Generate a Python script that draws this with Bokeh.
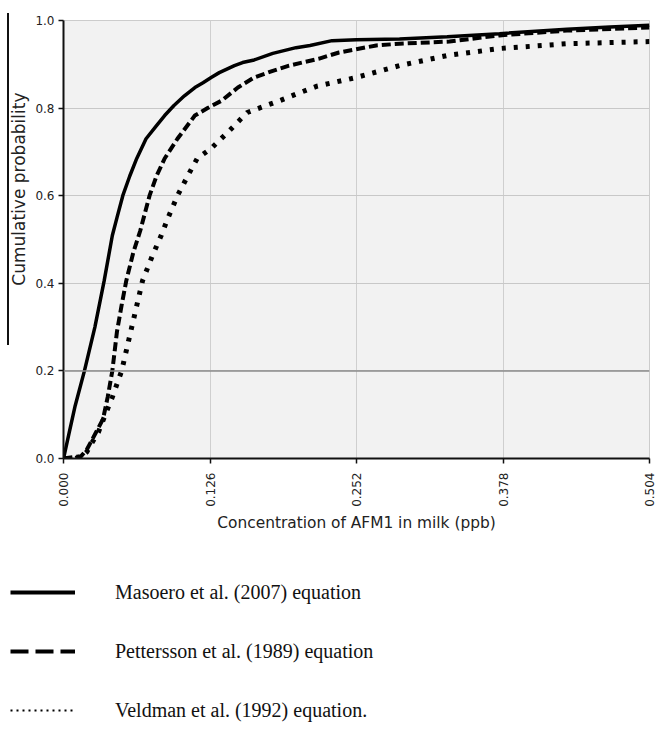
import math
from bokeh.plotting import figure
from bokeh.models import Legend, LegendItem, Span, FixedTicker, Range1d, ColumnDataSource
from bokeh.embed import file_html
from bokeh.resources import INLINE

# ---- data ----
masoero_x = [0, 0.005, 0.010, 0.018, 0.027, 0.035, 0.042, 0.046, 0.051, 0.057, 0.063, 0.071,
             0.080, 0.087, 0.095, 0.104, 0.113, 0.120, 0.127, 0.134, 0.147, 0.154, 0.164, 0.180,
             0.200, 0.212, 0.231, 0.252, 0.289, 0.330, 0.375, 0.433, 0.470, 0.504]
masoero_y = [0, 0.06, 0.12, 0.20, 0.30, 0.406, 0.509, 0.55, 0.60, 0.645, 0.685, 0.73,
             0.76, 0.783, 0.806, 0.828, 0.847, 0.858, 0.870, 0.881, 0.897, 0.904, 0.910, 0.925,
             0.938, 0.943, 0.954, 0.956, 0.958, 0.963, 0.970, 0.980, 0.985, 0.989]

pettersson_x = [0, 0.008, 0.015, 0.020, 0.024, 0.028, 0.034, 0.038, 0.042, 0.046, 0.050, 0.054,
                0.060, 0.066, 0.074, 0.080, 0.087, 0.098, 0.113, 0.124, 0.136, 0.150, 0.164,
                0.180, 0.194, 0.220, 0.237, 0.269, 0.289, 0.332, 0.375, 0.433, 0.504]
pettersson_y = [0, 0.003, 0.005, 0.02, 0.04, 0.06, 0.09, 0.14, 0.20, 0.29, 0.35, 0.406,
                0.47, 0.52, 0.60, 0.645, 0.685, 0.73, 0.783, 0.800, 0.817, 0.847, 0.870,
                0.885, 0.897, 0.913, 0.927, 0.943, 0.947, 0.952, 0.966, 0.977, 0.984]

veldman_x = [0, 0.010, 0.016, 0.020, 0.024, 0.030, 0.035, 0.042, 0.050, 0.058, 0.068, 0.076,
             0.084, 0.090, 0.098, 0.107, 0.115, 0.127, 0.141, 0.158, 0.186, 0.203, 0.218,
             0.252, 0.289, 0.330, 0.375, 0.433, 0.504]
veldman_y = [0, 0.0, 0.005, 0.015, 0.034, 0.06, 0.094, 0.14, 0.20, 0.292, 0.406, 0.46,
             0.509, 0.55, 0.60, 0.646, 0.685, 0.708, 0.744, 0.79, 0.817, 0.835, 0.850,
             0.870, 0.897, 0.920, 0.936, 0.947, 0.952]

x_ticks = [0.000, 0.126, 0.252, 0.378, 0.504]
x_tick_labels = ["0.000", "0.126", "0.252", "0.378", "0.504"]
y_ticks = [0.0, 0.2, 0.4, 0.6, 0.8, 1.0]
y_tick_labels = ["0.0", "0.2", "0.4", "0.6", "0.8", "1.0"]
highlight_y = 0.2

series_names = ["Masoero et al. (2007) equation",
                "Pettersson et al. (1989) equation",
                "Veldman et al. (1992) equation."]

x_title = "Concentration of AFM1 in milk (ppb)"
y_title = "Cumulative probability"

AXIS_FONT = "DejaVu Sans"

# ---- main chart ----
p = figure(width=656, height=553, output_backend="svg", toolbar_location=None,
           x_range=Range1d(0, 0.504), y_range=Range1d(0, 1.0),
           min_border_left=63, min_border_right=7, min_border_top=20, min_border_bottom=95,
           title=y_title, title_location="left",
           styles={"background": "linear-gradient(#111, #111) no-repeat 7px 13px / 2px 332px"})
p.background_fill_color = "#f2f2f2"
p.border_fill_alpha = 0
p.outline_line_color = "#cccccc"

# y-axis title drawn as a left-side title, offset toward the top like the reference
p.title.align = "right"
p.title.offset = 72
p.title.text_font = AXIS_FONT
p.title.text_font_style = "normal"
p.title.text_font_size = "17px"
p.title.text_color = "#222222"
p.title.standoff = 7

for ax in (p.xaxis[0], p.yaxis[0]):
    ax.axis_line_color = "#111111"
    ax.axis_line_width = 2
    ax.major_tick_line_color = "#111111"
    ax.major_tick_line_width = 1.5
    ax.major_tick_out = 5
    ax.major_tick_in = 0
    ax.minor_tick_line_color = None
    ax.major_label_text_font = AXIS_FONT
    ax.major_label_text_font_size = "12px"
    ax.major_label_text_color = "#222222"

p.xaxis.major_label_standoff = 9
p.yaxis.major_label_standoff = 4

p.xaxis.ticker = FixedTicker(ticks=x_ticks)
p.xaxis.major_label_overrides = {t: l for t, l in zip(x_ticks, x_tick_labels)}
p.xaxis.major_label_orientation = math.pi / 2
p.xaxis.axis_label = x_title
p.xaxis.axis_label_text_font = AXIS_FONT
p.xaxis.axis_label_text_font_style = "normal"
p.xaxis.axis_label_text_font_size = "15.4px"
p.xaxis.axis_label_text_color = "#222222"
p.xaxis.axis_label_standoff = 4

p.yaxis.ticker = FixedTicker(ticks=y_ticks)
p.yaxis.major_label_overrides = {t: l for t, l in zip(y_ticks, y_tick_labels)}

p.xgrid.grid_line_color = "#cfcfcf"
p.ygrid.grid_line_color = "#c8c8c8"
p.xgrid.grid_line_width = 1
p.ygrid.grid_line_width = 1.2

p.add_layout(Span(location=highlight_y, dimension="width", line_color="#8c8c8c", line_width=1.5))

p.line(masoero_x, masoero_y, line_color="black", line_width=3.5)
p.line(pettersson_x, pettersson_y, line_color="black", line_width=4, line_dash="9 4")
p.line(veldman_x, veldman_y, line_color="black", line_width=5, line_dash="4 8")

# ---- legend panel (separate root so its frame starts at the left edge) ----
lg = figure(width=656, height=176, output_backend="svg", toolbar_location=None,
            x_range=Range1d(0, 1), y_range=Range1d(0, 1),
            x_axis_type=None, y_axis_type=None,
            min_border=0)
lg.outline_line_color = None
lg.grid.visible = False
nan = float("nan")
src = ColumnDataSource(data=dict(x=[nan], y=[nan]))
r1 = lg.line("x", "y", source=src, line_color="black", line_width=4)
r2 = lg.line("x", "y", source=src, line_color="black", line_width=4, line_dash="18 7")
r3 = lg.line("x", "y", source=src, line_color="black", line_width=2, line_dash="2 4")
legend = Legend(items=[LegendItem(label=n, renderers=[r]) for n, r in zip(series_names, [r1, r2, r3])],
                location=(10, 7), orientation="vertical",
                glyph_width=65, glyph_height=24, label_height=24, spacing=35,
                label_standoff=40, padding=0, margin=0,
                label_text_font="Liberation Serif", label_text_font_size="20px",
                label_text_color="#111111",
                border_line_color=None, background_fill_alpha=0)
lg.add_layout(legend, "center")

open("out.html", "w").write(file_html([p, lg], INLINE))
